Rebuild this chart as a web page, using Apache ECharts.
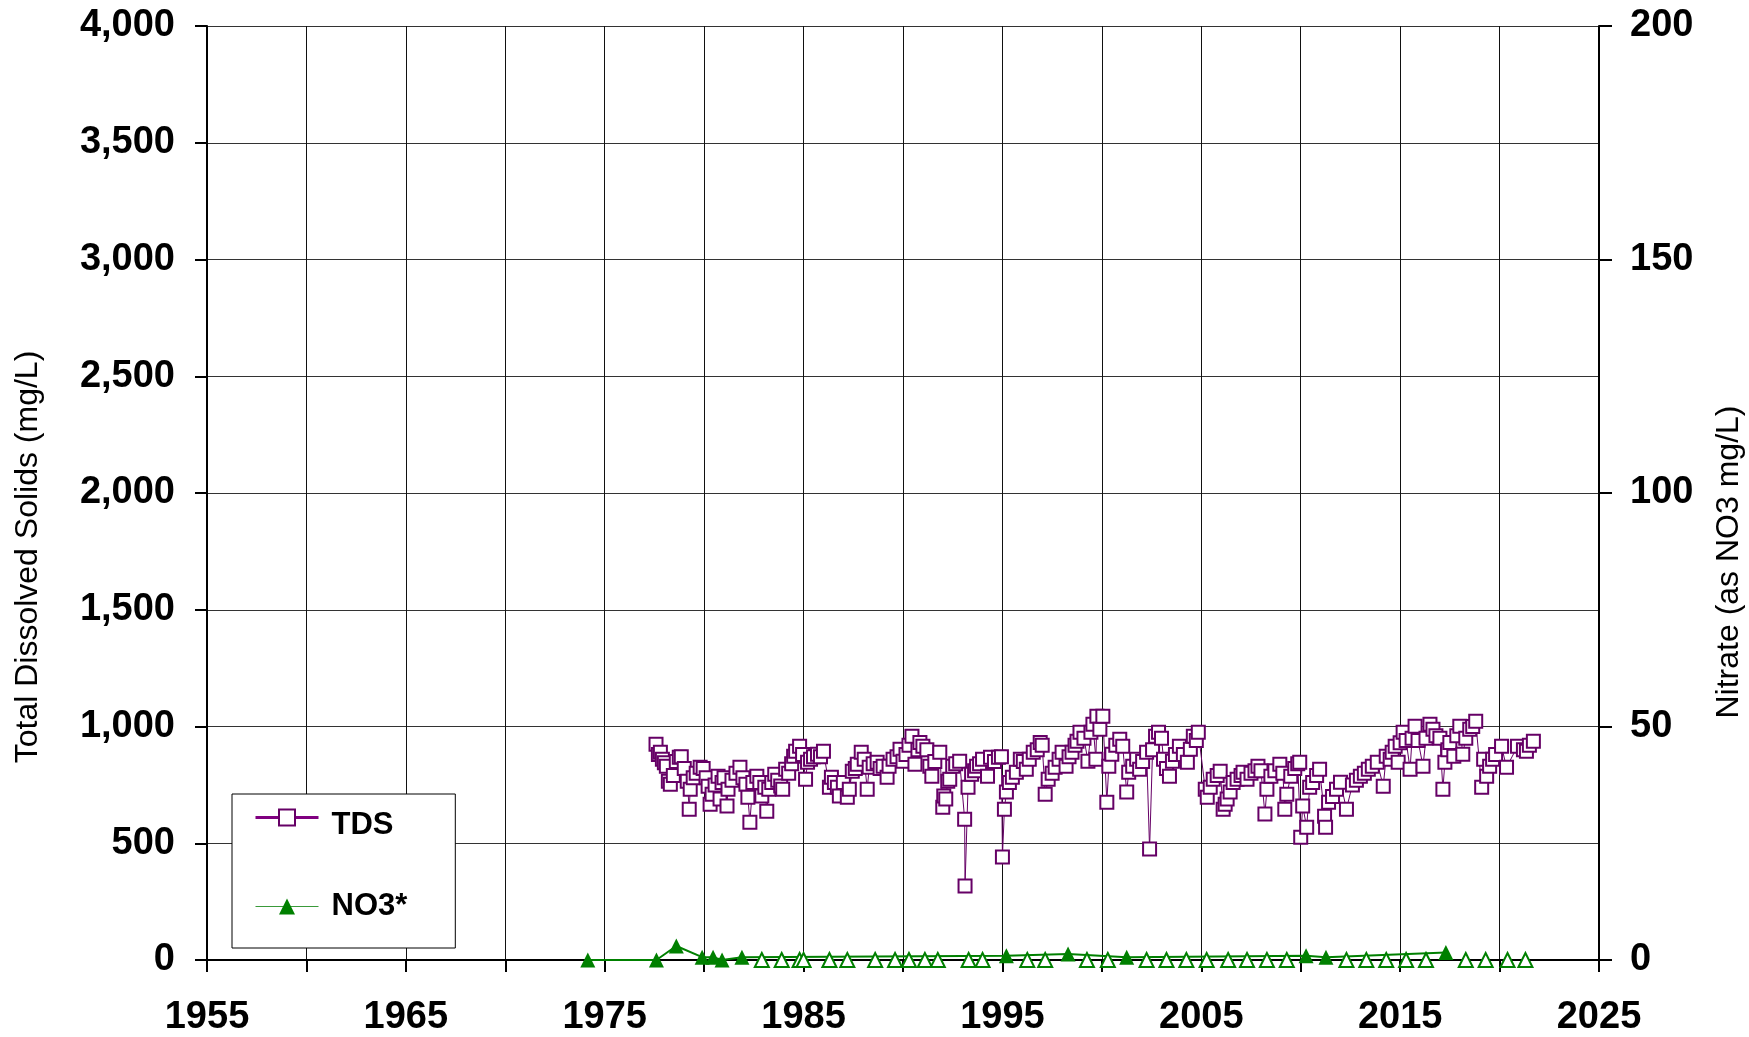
<!DOCTYPE html>
<html>
<head>
<meta charset="utf-8">
<script src="https://cdn.jsdelivr.net/npm/echarts@6/dist/echarts.min.js"></script>
<style>
html,body{margin:0;padding:0;background:#fff;}
#chart{width:1749px;height:1037px;}
</style>
</head>
<body>
<div id="chart"></div>
<script>
// ---- Data (decimal years) ----
const xTicks = [1955, 1965, 1975, 1985, 1995, 2005, 2015, 2025];
const tdsYears = [
1977.58,1977.7,1977.8,1977.9,1978.0,1978.1,1978.2,1978.3,1978.45,1978.6,1978.75,1978.85,1979.0,1979.15,1979.25,1979.3,1979.45,1979.6,1979.8,1979.95,
1980.1,1980.2,1980.3,1980.4,1980.55,1980.7,1980.8,1980.9,1981.0,1981.15,1981.2,1981.4,1981.6,1981.8,1981.95,1982.1,1982.2,1982.3,1982.45,1982.65,
1982.8,1982.9,1983.05,1983.15,1983.25,1983.4,1983.55,1983.7,1983.85,1983.95,1984.1,1984.25,1984.4,1984.5,1984.6,1984.8,1984.95,1985.1,1985.2,1985.35,
1985.5,1985.7,1985.85,1986.0,1986.3,1986.4,1986.55,1986.7,1986.8,1987.0,1987.2,1987.3,1987.45,1987.6,1987.7,1987.9,1988.05,1988.2,1988.3,1988.5,
1988.7,1988.85,1989.0,1989.2,1989.3,1989.5,1989.7,1989.85,1990.0,1990.15,1990.3,1990.45,1990.6,1990.75,1990.85,1991.0,1991.2,1991.35,1991.45,1991.6,
1991.85,1992.0,1992.05,1992.15,1992.25,1992.35,1992.5,1992.65,1992.85,1993.1,1993.12,1993.27,1993.45,1993.6,1993.7,1993.85,1994.0,1994.25,1994.4,1994.6,
1994.8,1994.95,1995.0,1995.1,1995.2,1995.35,1995.5,1995.7,1995.9,1996.05,1996.2,1996.35,1996.55,1996.75,1996.9,1997.0,1997.15,1997.3,1997.5,1997.65,
1997.85,1998.0,1998.2,1998.35,1998.5,1998.65,1998.75,1998.9,1999.1,1999.3,1999.45,1999.55,1999.7,1999.75,1999.9,2000.05,2000.25,2000.35,2000.5,2000.7,
2000.9,2001.05,2001.25,2001.35,2001.55,2001.75,2001.9,2002.05,2002.25,2002.4,2002.55,2002.7,2002.85,2003.0,2003.1,2003.25,2003.4,2003.55,2003.7,2003.9,
2004.1,2004.3,2004.45,2004.6,2004.75,2004.85,2005.2,2005.3,2005.45,2005.6,2005.8,2005.95,2006.1,2006.2,2006.3,2006.45,2006.6,2006.8,2007.0,2007.1,
2007.3,2007.5,2007.7,2007.85,2008.0,2008.2,2008.3,2008.5,2008.7,2008.95,2009.1,2009.2,2009.3,2009.5,2009.7,2009.85,2009.95,2010.0,2010.1,2010.3,
2010.45,2010.6,2010.8,2010.95,2011.2,2011.25,2011.4,2011.6,2011.8,2012.0,2012.3,2012.6,2012.8,2013.0,2013.2,2013.4,2013.6,2013.85,2014.15,2014.3,
2014.5,2014.6,2014.75,2014.9,2015.0,2015.15,2015.3,2015.5,2015.6,2015.75,2015.9,2016.15,2016.3,2016.5,2016.65,2016.8,2017.0,2017.15,2017.25,2017.4,
2017.5,2017.7,2017.85,2018.0,2018.15,2018.3,2018.5,2018.65,2018.8,2019.1,2019.2,2019.35,2019.5,2019.65,2019.8,2020.1,2020.35,2020.9,2021.2,2021.35,
2021.5,2021.7
];
const tdsValues = [
924,880,890,860,845,830,765,753,790,850,868,870,820,765,646,731,780,800,825,820,
780,744,667,710,750,787,689,760,780,659,731,770,800,825,780,753,697,590,760,787,
760,702,740,637,731,760,796,770,745,731,817,800,840,873,894,915,880,774,847,860,
870,881,870,894,740,783,760,740,702,760,697,731,808,820,838,890,860,731,825,840,
847,820,830,783,830,860,870,903,851,880,920,958,838,900,932,915,900,830,787,850,
890,654,702,689,766,774,830,840,851,603,317,740,796,810,830,840,860,787,868,850,
868,870,441,646,719,760,783,804,860,850,817,860,890,900,932,920,710,774,800,825,
860,890,830,870,890,920,937,975,950,851,975,1010,860,1044,988,1044,676,830,881,920,
945,915,719,804,830,860,817,850,890,475,900,958,975,950,860,820,787,851,880,915,
880,847,903,958,940,975,731,697,740,774,790,808,646,667,690,719,760,774,790,804,
774,800,810,830,810,625,731,787,810,838,800,646,710,787,820,840,847,526,659,569,
740,760,790,817,616,569,676,700,731,761,646,750,770,787,800,817,830,847,744,873,
860,890,915,847,930,975,940,817,950,1001,940,830,950,1010,988,960,950,731,847,900,
932,873,960,1001,881,950,988,1000,1022,740,860,787,830,860,880,915,825,915,900,894,
920,937
];
// Nitrate detections (filled triangles, connected by line)
const no3Years = [1974.15,1977.6,1978.6,1979.9,1980.45,1980.9,1981.9,1995.2,1998.3,2001.25,2010.27,2011.27,2017.3];
const no3Values = [0,0,3.0,0.6,0.6,0,0.6,0.9,1.3,0.6,0.9,0.6,1.6];
// Nitrate non-detects (open triangles)
const ndYears = [1982.9,1983.9,1984.8,1985.0,1986.3,1987.2,1988.6,1989.6,1990.3,1991.1,1991.75,1993.3,1994.0,1996.25,1997.15,1999.25,2000.3,2002.25,2003.25,2004.25,2005.27,2006.35,2007.3,2008.3,2009.3,2012.3,2013.3,2014.3,2015.3,2016.3,2018.3,2019.3,2020.4,2021.3];
const ndValues = [0,0,0,0,0,0,0,0,0,0,0,0,0,0,0,0,0,0,0,0,0,0,0,0,0,0,0,0,0,0,0,0,0,0];

const leftTitle = 'Total Dissolved Solids (mg/L)';
const rightTitle = 'Nitrate (as NO3 mg/L)';

const FONT = '"Liberation Sans", Arial, sans-serif';
const PURPLE = '#660066';
const GREEN = '#008000';

const zip = (a, b) => a.map((v, i) => [v, b[i]]);

const chart = echarts.init(document.getElementById('chart'), null, {renderer: 'canvas'});
chart.setOption({
  animation: false,
  backgroundColor: '#fff',
  grid: {left: 207, right: 150, top: 26, bottom: 76, containLabel: false},
  xAxis: {
    type: 'value', min: 1955, max: 2025, interval: 5,
    axisLine: {show: true, onZero: false, lineStyle: {color: '#000', width: 2}},
    axisTick: {show: true, length: 12, lineStyle: {color: '#000', width: 2}},
    axisLabel: {
      margin: 39, color: '#000', fontFamily: FONT, fontWeight: 'bold', fontSize: 38,
      formatter: v => xTicks.indexOf(v) >= 0 ? String(v) : ''
    },
    splitLine: {show: true, lineStyle: {color: '#111', width: 1}}
  },
  yAxis: [
    {
      type: 'value', min: 0, max: 4000, interval: 500, position: 'left',
      axisLine: {show: true, lineStyle: {color: '#000', width: 2}},
      axisTick: {show: true, length: 12, lineStyle: {color: '#000', width: 2}},
      axisLabel: {margin: 32, color: '#000', fontFamily: FONT, fontWeight: 'bold', fontSize: 38},
      splitLine: {show: true, lineStyle: {color: '#333', width: 1}}
    },
    {
      type: 'value', min: 0, max: 200, interval: 50, position: 'right',
      axisLine: {show: true, lineStyle: {color: '#000', width: 2}},
      axisTick: {show: true, length: 13, lineStyle: {color: '#000', width: 2}},
      axisLabel: {margin: 31, color: '#000', fontFamily: FONT, fontWeight: 'bold', fontSize: 38},
      splitLine: {show: false}
    }
  ],
  legend: {
    orient: 'vertical', left: 232, top: 794,
    backgroundColor: '#fff', borderColor: '#000', borderWidth: 1,
    padding: [0, 48, 26, 22],
    itemWidth: 63, itemHeight: 20, itemGap: 50,
    formatter: name => name === 'TDS' ? '{t|' + name + '}' : '{n|' + name + '}',
    textStyle: {
      fontFamily: FONT, fontWeight: 'bold', fontSize: 31, color: '#000',
      rich: {
        t: {fontFamily: FONT, fontWeight: 'bold', fontSize: 31, color: '#000', lineHeight: 30, padding: [16, 0, 0, 8]},
        n: {fontFamily: FONT, fontWeight: 'bold', fontSize: 31, color: '#000', lineHeight: 30, padding: [0, 0, 0, 8]}
      }
    },
    data: [
      {name: 'TDS', lineStyle: {width: 3, color: '#800080'}, itemStyle: {borderColor: '#800080', borderWidth: 2}},
      {name: 'NO3*', lineStyle: {width: 1, color: '#3a9a3a'}}
    ]
  },
  graphic: [
    {type: 'text', x: 28, y: 557, rotation: Math.PI / 2,
     style: {text: leftTitle, fontFamily: FONT, fontSize: 32, fill: '#000', align: 'center', verticalAlign: 'middle'}},
    {type: 'text', x: 1729, y: 562, rotation: Math.PI / 2,
     style: {text: rightTitle, fontFamily: FONT, fontSize: 32, fill: '#000', align: 'center', verticalAlign: 'middle'}}
  ],
  series: [
    {
      name: 'TDS', type: 'line', yAxisIndex: 0,
      data: zip(tdsYears, tdsValues),
      symbol: 'emptyRect', symbolSize: 13,
      lineStyle: {color: PURPLE, width: 1},
      itemStyle: {color: PURPLE, borderColor: PURPLE, borderWidth: 2},
      emphasis: {disabled: true}, z: 3
    },
    {
      name: 'NO3*', type: 'line', yAxisIndex: 1,
      data: zip(no3Years, no3Values),
      symbol: 'triangle', symbolSize: 15,
      lineStyle: {color: GREEN, width: 2},
      itemStyle: {color: GREEN},
      emphasis: {disabled: true}, z: 4, clip: false
    },
    {
      name: 'NO3 non-detect', type: 'line', yAxisIndex: 1,
      data: zip(ndYears, ndValues),
      symbol: 'emptyTriangle', symbolSize: 14,
      lineStyle: {width: 0, opacity: 0},
      itemStyle: {color: GREEN, borderColor: GREEN, borderWidth: 2},
      emphasis: {disabled: true}, z: 4, clip: false
    }
  ]
});
</script>
</body>
</html>
